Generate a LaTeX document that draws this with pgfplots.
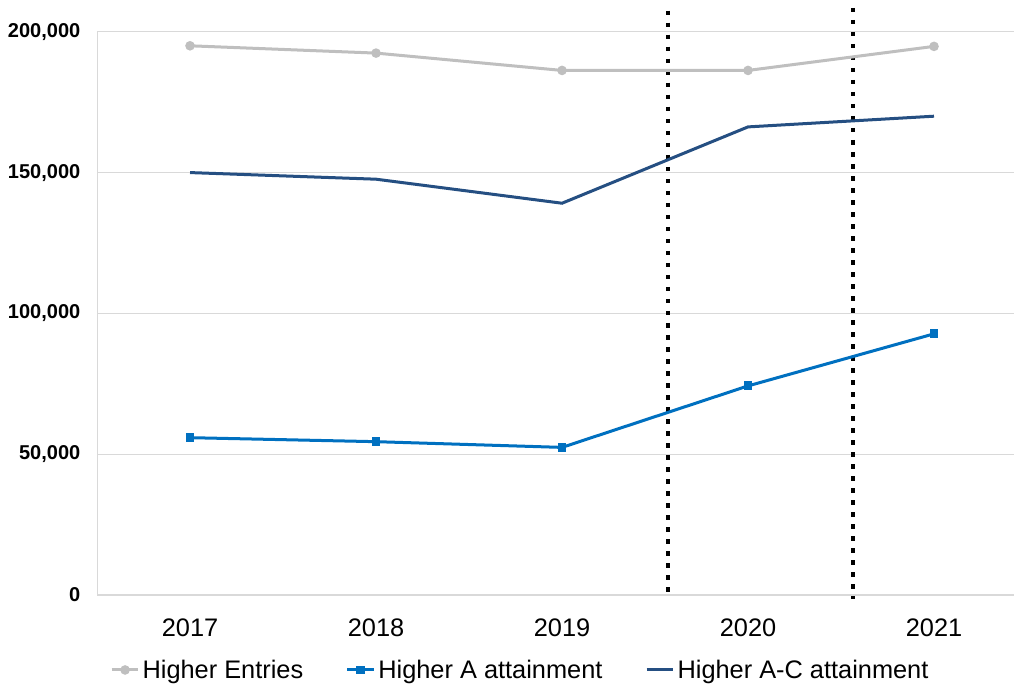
\documentclass[border=0pt]{standalone}
\usepackage{pgfplots}
\pgfplotsset{compat=1.18}
\usepackage{fontspec}
\setmainfont{Liberation Sans}
\definecolor{cEnt}{RGB}{191,191,191}
\definecolor{cA}{RGB}{0,112,192}
\definecolor{cAC}{RGB}{37,79,130}
\definecolor{cGrid}{RGB}{217,217,217}
\begin{document}
\begin{tikzpicture}
\begin{axis}[
  at={(0,0)}, anchor=south west,
  scale only axis,
  width=687pt, height=422pt,
  xmin=-0.5, xmax=4.43,
  ymin=0, ymax=200000,
  clip=false,
  axis lines*=left,
  axis line style={draw=cGrid, line width=0.8pt},
  ymajorgrids, grid style={draw=cGrid, line width=0.8pt},
  xtick={0,1,2,3,4},
  xticklabels={2017,2018,2019,2020,2021},
  ytick={0,50000,100000,150000,200000},
  yticklabels={0,{50,000},{100,000},{150,000},{200,000}},
  scaled y ticks=false,
  major tick length=0pt,
  yticklabel style={font=\bfseries\fontsize{15}{15}\selectfont, xshift=-9pt},
  xticklabel style={font=\fontsize{19}{19}\selectfont, yshift=-14pt},
  legend style={draw=none, fill=none, at={(0.462,-0.105)}, anchor=north,
    font=\fontsize{19}{19}\selectfont, legend columns=3,
    /tikz/every even column/.append style={column sep=30pt}},
  legend cell align=left,
  legend image code/.code={\draw[mark repeat=2,mark phase=2,#1] plot coordinates {(0pt,0pt) (10pt,0pt) (20pt,0pt)};},
]
\addplot[forget plot, black, line width=3.4pt, dash pattern=on 3.4pt off 5.6pt]
  coordinates {(2.57,207500) (2.57,-1300)};
\addplot[forget plot, black, line width=3.4pt, dash pattern=on 3.4pt off 5.6pt]
  coordinates {(3.565,208500) (3.565,-1300)};
\addplot[cEnt, line width=2.25pt, mark=*, mark size=2.4pt]
  coordinates {(0,195020) (1,192425) (2,186270) (3,186270) (4,194810)};
\addlegendentry{Higher Entries}
\addplot[cA, line width=2.25pt, mark=square*, mark size=2.2pt]
  coordinates {(0,55870) (1,54450) (2,52420) (3,74250) (4,92740)};
\addlegendentry{Higher A attainment}
\addplot[cAC, line width=2.25pt]
  coordinates {(0,150000) (1,147650) (2,139120) (3,166220) (4,170020)};
\addlegendentry{Higher A-C attainment}
\end{axis}
\pgfresetboundingbox
\path[use as bounding box] (-72.7pt,-68.2pt) rectangle (688.5pt,445.8pt);
\end{tikzpicture}
\end{document}
